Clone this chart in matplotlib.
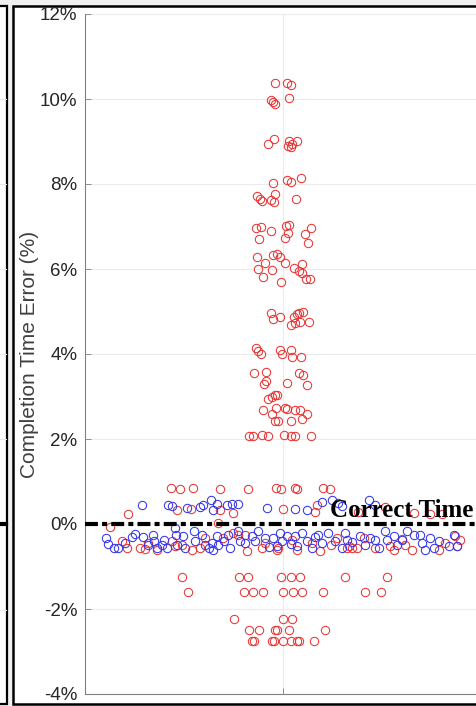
import matplotlib
matplotlib.use('Agg')
import numpy as np
import matplotlib.pyplot as plt
from matplotlib.patches import Rectangle
from matplotlib.lines import Line2D

#==========================================================
# data
#==========================================================
# red runs: upper cluster
red_hi_x = [0.980, 1.009, 1.020, 0.970, 0.975, 0.980, 1.014, 0.978, 0.961, 1.015,
            1.013, 1.023, 1.035, 1.020, 0.974, 1.011, 1.021, 1.045, 0.934, 0.942,
            0.947, 0.977, 0.980, 0.970, 1.033, 0.932, 0.944, 0.939, 0.969, 1.008,
            1.016, 1.012, 1.004, 1.055, 1.070, 1.063, 0.935, 0.974, 0.986, 0.992,
            1.005, 0.955, 0.938, 0.971, 0.950, 0.995, 1.029, 1.047, 1.041, 1.047,
            1.058, 1.068, 0.969, 0.974, 0.993, 1.029, 1.035, 1.041, 1.051, 1.019,
            1.030, 1.043, 1.066, 0.932, 0.938, 0.944, 0.992, 0.998, 1.019, 1.023,
            1.045, 0.927, 0.957, 0.957, 0.952, 1.009, 1.041, 1.050, 1.061, 0.963,
            0.971, 0.980, 0.985, 0.949, 0.971, 0.982, 0.981, 0.987, 1.005, 1.011,
            1.019, 1.030, 1.043, 1.047, 1.060, 0.915, 0.923, 0.947, 0.962, 1.003,
            1.019, 1.030, 1.070]
red_hi_y = [10.37, 10.38, 10.32, 9.98, 9.93, 9.88, 10.03, 9.05, 8.93, 9.01,
            8.89, 8.94, 9.01, 8.87, 8.02, 8.09, 8.05, 8.13, 7.72, 7.65,
            7.60, 7.58, 7.76, 7.62, 7.65, 6.97, 7.00, 6.71, 6.90, 7.02,
            7.04, 6.85, 6.72, 6.82, 6.96, 6.62, 6.29, 6.33, 6.35, 6.29,
            6.15, 6.15, 5.99, 5.98, 5.82, 5.70, 6.02, 6.12, 5.96, 5.91,
            5.76, 5.77, 4.97, 4.83, 4.88, 4.88, 4.93, 4.97, 5.00, 4.68,
            4.72, 4.76, 4.76, 4.15, 4.08, 4.01, 4.09, 4.01, 4.10, 3.94,
            3.94, 3.56, 3.58, 3.37, 3.29, 3.32, 3.56, 3.51, 3.26, 2.95,
            3.00, 3.03, 3.03, 2.68, 2.59, 2.74, 2.43, 2.43, 2.73, 2.71,
            2.43, 2.68, 2.68, 2.46, 2.60, 2.08, 2.08, 2.09, 2.08, 2.09,
            2.08, 2.08, 2.08]

# red runs near the correct time
red_mid_x = [0.717, 0.740, 0.773, 0.841, 0.912, 0.982, 0.995, 1.030, 1.035, 1.100,
             1.119, 0.609, 0.732, 0.768, 0.841, 0.874, 1.001, 1.081, 1.085, 1.190,
             1.258, 1.330, 1.372, 1.402, 0.837,
             0.563, 0.593, 0.605, 0.639, 0.652, 0.681, 0.720, 0.727, 0.744, 0.790,
             0.803, 0.849, 0.874, 0.887, 0.904, 0.908, 0.946, 0.984, 0.988, 1.022,
             1.035, 1.072, 1.093, 1.136, 1.161, 1.166, 1.174, 1.187, 1.204, 1.233,
             1.271, 1.280, 1.309, 1.326, 1.393, 1.435, 1.448, 1.439,
             0.660, 0.770, 0.955, 1.120, 1.300, 1.410]
red_mid_y = [0.85, 0.83, 0.85, 0.83, 0.83, 0.85, 0.83, 0.85, 0.83, 0.85,
             0.83, 0.24, 0.32, 0.35, 0.33, 0.26, 0.35, 0.28, 0.45, 0.28,
             0.40, 0.26, 0.24, 0.24, 0.02,
             -0.08, -0.41, -0.56, -0.56, -0.58, -0.60, -0.41, -0.52, -0.49, -0.56,
             -0.33, -0.33, -0.21, -0.25, -0.25, -0.64, -0.56, -0.60, -0.56, -0.37,
             -0.60, -0.45, -0.64, -0.33, -0.56, -0.52, -0.56, -0.56, -0.33, -0.56,
             -0.52, -0.60, -0.49, -0.60, -0.60, -0.29, -0.37, -0.52,
             -0.45, -0.62, -0.45, -0.50, -0.35, -0.45]

# red runs that finished early
red_lo_x = [0.746, 0.889, 0.912, 0.995, 1.019, 1.043, 1.157, 1.263,
            0.761, 0.902, 0.925, 0.949, 0.999, 1.024, 1.048, 1.102, 1.207, 1.247,
            0.877, 0.999, 1.023,
            0.915, 0.940, 0.980, 0.986, 1.015, 1.106,
            0.921, 0.927, 0.971, 0.977, 0.999, 1.019, 1.035, 1.040, 1.079]
red_lo_y = [-1.25, -1.25, -1.25, -1.25, -1.25, -1.25, -1.25, -1.25,
            -1.60, -1.60, -1.60, -1.60, -1.60, -1.60, -1.60, -1.60, -1.60, -1.60,
            -2.24, -2.24, -2.24,
            -2.49, -2.49, -2.49, -2.49, -2.49, -2.49,
            -2.75, -2.75, -2.75, -2.75, -2.75, -2.75, -2.75, -2.75, -2.75]

# blue runs
blue_x = [0.643, 0.709, 0.720, 0.757, 0.790, 0.798, 0.818, 0.823, 0.833, 0.858,
          0.870, 0.887, 0.959, 1.030, 1.060, 1.098, 1.123, 1.216, 1.138, 1.150,
          1.233,
          0.552, 0.559, 0.572, 0.584, 0.618, 0.625, 0.647, 0.660, 0.672, 0.675,
          0.681, 0.694, 0.706, 0.727, 0.729, 0.732, 0.748, 0.753, 0.774, 0.778,
          0.795, 0.803, 0.813, 0.820, 0.824, 0.833, 0.837, 0.862, 0.866, 0.887,
          0.891, 0.921, 0.929, 0.938, 0.955, 0.976, 0.984, 0.992, 0.997, 1.009,
          1.030, 1.035, 1.047, 1.060, 1.072, 1.089, 1.098, 1.114, 1.131, 1.148,
          1.161, 1.157, 1.195, 1.208, 1.233, 1.242, 1.258, 1.263, 1.280, 1.288,
          1.301, 1.313, 1.330, 1.347, 1.351, 1.359, 1.372, 1.381, 1.418, 1.431,
          1.439,
          0.600, 0.700, 0.850, 0.905, 0.965, 1.020, 1.080, 1.175, 1.220, 1.395]
blue_y = [0.45, 0.45, 0.42, 0.38, 0.40, 0.45, 0.56, 0.33, 0.47, 0.45,
          0.47, 0.47, 0.38, 0.35, 0.33, 0.52, 0.56, 0.56, 0.50, 0.42,
          0.45,
          -0.33, -0.47, -0.56, -0.56, -0.31, -0.24, -0.31, -0.49, -0.25, -0.41,
          -0.56, -0.49, -0.56, -0.09, -0.25, -0.49, -0.29, -0.56, -0.17, -0.41,
          -0.25, -0.49, -0.56, -0.45, -0.60, -0.29, -0.49, -0.25, -0.56, -0.17,
          -0.41, -0.29, -0.41, -0.17, -0.33, -0.33, -0.52, -0.21, -0.41, -0.29,
          -0.29, -0.52, -0.21, -0.41, -0.56, -0.25, -0.45, -0.21, -0.41, -0.56,
          -0.37, -0.21, -0.29, -0.49, -0.37, -0.56, -0.17, -0.37, -0.29, -0.49,
          -0.37, -0.17, -0.25, -0.25, -0.45, -0.60, -0.33, -0.56, -0.52, -0.25,
          -0.52,
          -0.45, -0.38, -0.40, -0.45, -0.55, -0.48, -0.30, -0.42, -0.33, -0.40]

y_ticks = [-4, -2, 0, 2, 4, 6, 8, 10, 12]
y_ticklabels = ['-4%', '-2%', '0%', '2%', '4%', '6%', '8%', '10%', '12%']
ref_label = 'Correct Time'
y_label = 'Completion Time Error (%)'

#==========================================================
# figure + frame decoration (pixel coords of a 477x706 canvas)
#==========================================================
W, H = 477, 706
fig = plt.figure(figsize=(W/100, H/100), dpi=100, facecolor='#f0f0f0')

def fx(x):
    return x / W

def fy(y):
    return 1 - y / H

# piece of the neighbouring panel on the left
fig.patches.append(Rectangle((fx(-5), fy(704)), fx(12), fy(6) - fy(704),
                             transform=fig.transFigure, facecolor='white',
                             edgecolor='black', linewidth=1.6, zorder=-2))
for gy in [99, 184, 269, 354, 439, 610]:
    fig.add_artist(Line2D([fx(0), fx(6)], [fy(gy), fy(gy)], color='#e6e6e6',
                          linewidth=0.8, transform=fig.transFigure, zorder=-1))
fig.add_artist(Line2D([fx(0), fx(6)], [fy(524), fy(524)], color='black',
                      linewidth=3, transform=fig.transFigure, zorder=-1))

# frame of this panel
fig.patches.append(Rectangle((fx(13.5), fy(704)), fx(480), fy(6) - fy(704),
                             transform=fig.transFigure, facecolor='white',
                             edgecolor='black', linewidth=1.8, zorder=-2))

#==========================================================
# axes
#==========================================================
ax = fig.add_axes([fx(85), fy(694), fx(396), fy(14) - fy(694)])
ax.set_zorder(2)
ax.set_facecolor('none')

ax.plot(red_hi_x, red_hi_y, 'o', ms=6, mfc='none', mec='#e83535', mew=0.75, zorder=4)
ax.plot(red_lo_x, red_lo_y, 'o', ms=6, mfc='none', mec='#e83535', mew=0.75, zorder=4)
ax.plot(red_mid_x, red_mid_y, 'o', ms=6, mfc='none', mec='#e83535', mew=0.75, zorder=4)
ax.plot(blue_x, blue_y, 'o', ms=6, mfc='none', mec='#3535e8', mew=0.75, zorder=4)

ax.axhline(0, color='black', linewidth=3, linestyle=(0, (3.1, 1.0, 1.2, 1.0)), zorder=5)
ax.text(1.119, 0.165, ref_label, family='Liberation Serif', fontweight='bold',
        fontsize=18, ha='left', va='baseline', color='black', zorder=6)

ax.set_xlim(0.5, 1.5)
ax.set_ylim(-4, 12)
ax.set_xticks([1])
ax.set_xticklabels([])
ax.set_yticks(y_ticks)
ax.set_yticklabels(y_ticklabels)
ax.tick_params(axis='y', direction='in', length=4, width=0.6, color='#808080',
               labelsize=13.5, labelcolor='#262626', pad=5.5)
ax.tick_params(axis='x', direction='in', length=4, width=0.6, color='#808080')
for lab in ax.get_yticklabels():
    lab.set_family('Liberation Sans')

ax.grid(True, color='#ebebeb', linewidth=0.8, zorder=0)
ax.set_axisbelow(True)

ax.spines['top'].set_visible(False)
ax.spines['right'].set_visible(False)
ax.spines['left'].set_color('#808080')
ax.spines['bottom'].set_color('#808080')
ax.spines['left'].set_linewidth(0.8)
ax.spines['bottom'].set_linewidth(0.8)

ax.set_ylabel(y_label, family='Liberation Sans', fontsize=15, color='#404040')
ax.yaxis.set_label_coords(-0.115, 0.5)

plt.savefig('out.png', dpi=100, facecolor=fig.get_facecolor())
